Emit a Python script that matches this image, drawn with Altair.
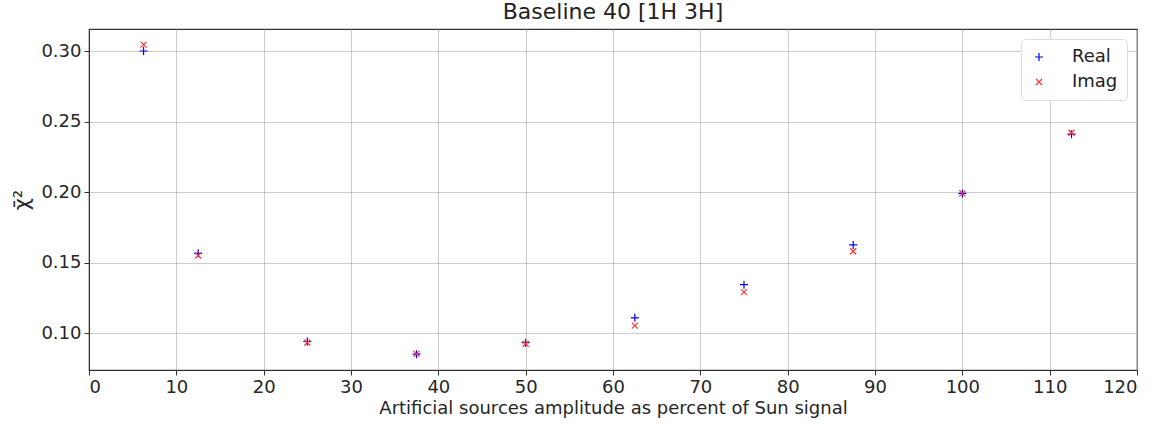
import altair as alt
import pandas as pd

amplitude = [6.25, 12.5, 25, 37.5, 50, 62.5, 75, 87.5, 100, 112.5]
real_vals = [0.300, 0.1565, 0.0940, 0.0850, 0.0932, 0.1108, 0.1343, 0.1625, 0.1990, 0.2410]
imag_vals = [0.3045, 0.1550, 0.0933, 0.0852, 0.0924, 0.1053, 0.1290, 0.1580, 0.1990, 0.2420]
series = ["Real", "Imag"]

rows = []
for a, r, i in zip(amplitude, real_vals, imag_vals):
    rows.append({"amp": a, "chi": r, "series": "Real"})
    rows.append({"amp": a, "chi": i, "series": "Imag"})
df = pd.DataFrame(rows)

plus_path = "M-1,0L1,0M0,-1L0,1"
x_path = "M-0.75,-0.75L0.75,0.75M-0.75,0.75L0.75,-0.75"

chart = alt.Chart(df).mark_point(filled=False, strokeWidth=1.2, size=64, opacity=1).encode(
    x=alt.X("amp:Q", scale=alt.Scale(domain=[0, 120], nice=False),
            axis=alt.Axis(values=list(range(0, 121, 10)), title="Artificial sources amplitude as percent of Sun signal")),
    y=alt.Y("chi:Q", scale=alt.Scale(domain=[0.0738, 0.3156], nice=False, zero=False),
            axis=alt.Axis(values=[0.10, 0.15, 0.20, 0.25, 0.30], format=".2f", title="χ̄²",
                          titleFontSize=21, titlePadding=8)),
    color=alt.Color("series:N", scale=alt.Scale(domain=series, range=["#0000ff", "#ff3333"]),
                    legend=alt.Legend(title=None, orient="top-right", offset=10)),
    shape=alt.Shape("series:N", scale=alt.Scale(domain=series, range=[plus_path, x_path]), legend=None),
).properties(
    width=1048, height=341,
    title=alt.TitleParams("Baseline 40 [1H 3H]", fontSize=22, font="DejaVu Sans", fontWeight="normal", color="#222222", offset=5),
    padding={"left": 89, "top": 29, "right": 24, "bottom": 54},
    autosize=alt.AutoSizeParams(type="none"),
).configure_view(
    stroke="#333333", strokeWidth=1.2
).configure_axis(
    labelFont="DejaVu Sans", labelFontSize=18, labelColor="#262626",
    titleFont="DejaVu Sans", titleFontSize=18, titleColor="#262626", titleFontWeight="normal",
    gridColor="#b0b0b0", gridOpacity=0.8, gridWidth=0.8,
    tickColor="#333333", tickSize=5, domainColor="#333333", labelPadding=3,
).configure_axisX(titlePadding=3).configure_legend(
    labelFont="DejaVu Sans", labelFontSize=18, labelColor="#222222",
    strokeColor="#dddddd", fillColor="white", padding=9, cornerRadius=4,
    symbolSize=64, symbolStrokeWidth=1.2, rowPadding=7, labelOffset=24,
)

chart.save("out.html", embed_options={"renderer": "svg", "actions": False})
